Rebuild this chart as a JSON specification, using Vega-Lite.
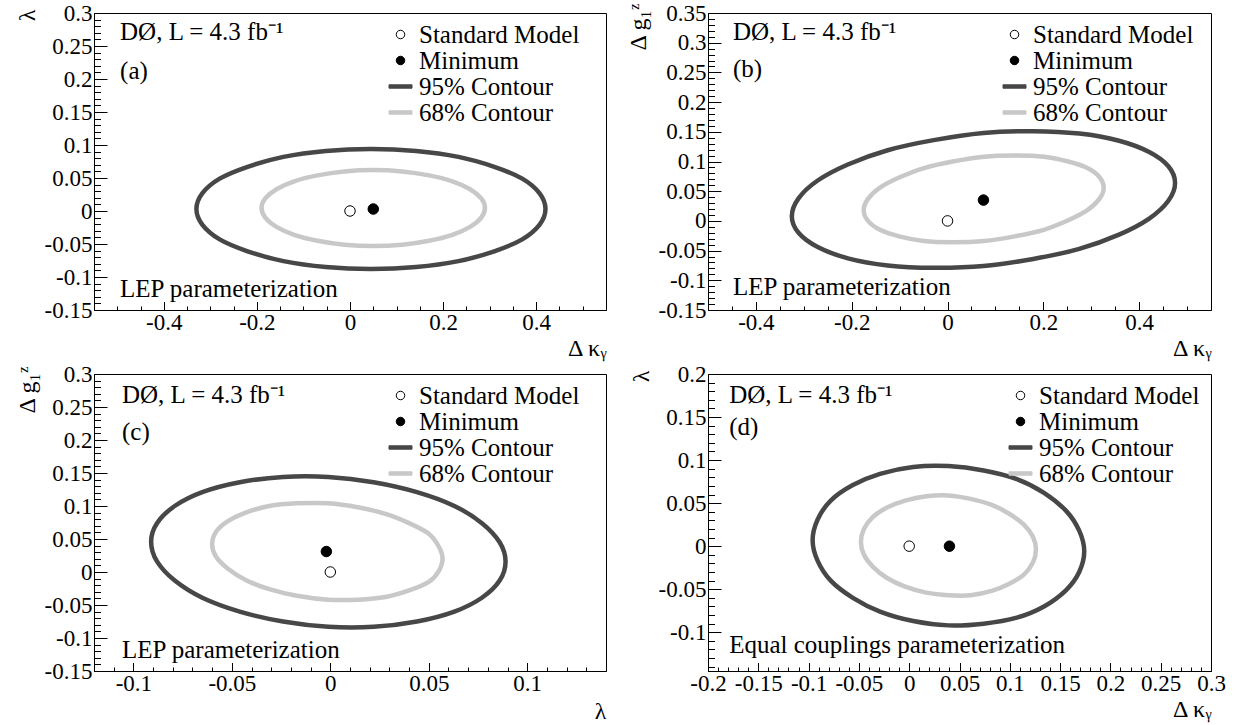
{
  "$schema": "https://vega.github.io/schema/vega-lite/v6.json",
  "background": "white",
  "padding": {"left": 14, "top": 1, "right": 5, "bottom": 2},
  "config": {
    "font": "Liberation Serif",
    "view": {"stroke": "black", "strokeWidth": 1},
    "text": {"font": "Liberation Serif", "fontSize": 25, "align": "left", "baseline": "alphabetic", "color": "black"}
  },
  "datasets": {
    "contours": [
      {"p":"a","lev":"95% Contour","i":0,"x":0.420,"y":0.003},{"p":"a","lev":"95% Contour","i":1,"x":0.407,"y":0.027},{"p":"a","lev":"95% Contour","i":2,"x":0.370,"y":0.049},{"p":"a","lev":"95% Contour","i":3,"x":0.310,"y":0.067},{"p":"a","lev":"95% Contour","i":4,"x":0.233,"y":0.082},{"p":"a","lev":"95% Contour","i":5,"x":0.142,"y":0.091},{"p":"a","lev":"95% Contour","i":6,"x":0.045,"y":0.094},{"p":"a","lev":"95% Contour","i":7,"x":-0.052,"y":0.091},{"p":"a","lev":"95% Contour","i":8,"x":-0.143,"y":0.082},{"p":"a","lev":"95% Contour","i":9,"x":-0.220,"y":0.067},{"p":"a","lev":"95% Contour","i":10,"x":-0.280,"y":0.049},{"p":"a","lev":"95% Contour","i":11,"x":-0.317,"y":0.027},{"p":"a","lev":"95% Contour","i":12,"x":-0.330,"y":0.003},{"p":"a","lev":"95% Contour","i":13,"x":-0.317,"y":-0.021},{"p":"a","lev":"95% Contour","i":14,"x":-0.280,"y":-0.043},{"p":"a","lev":"95% Contour","i":15,"x":-0.220,"y":-0.061},{"p":"a","lev":"95% Contour","i":16,"x":-0.143,"y":-0.076},{"p":"a","lev":"95% Contour","i":17,"x":-0.052,"y":-0.085},{"p":"a","lev":"95% Contour","i":18,"x":0.045,"y":-0.088},{"p":"a","lev":"95% Contour","i":19,"x":0.142,"y":-0.085},{"p":"a","lev":"95% Contour","i":20,"x":0.233,"y":-0.076},{"p":"a","lev":"95% Contour","i":21,"x":0.310,"y":-0.061},{"p":"a","lev":"95% Contour","i":22,"x":0.370,"y":-0.043},{"p":"a","lev":"95% Contour","i":23,"x":0.407,"y":-0.021},
      {"p":"a","lev":"68% Contour","i":0,"x":0.290,"y":0.005},{"p":"a","lev":"68% Contour","i":1,"x":0.282,"y":0.019},{"p":"a","lev":"68% Contour","i":2,"x":0.258,"y":0.033},{"p":"a","lev":"68% Contour","i":3,"x":0.220,"y":0.045},{"p":"a","lev":"68% Contour","i":4,"x":0.170,"y":0.054},{"p":"a","lev":"68% Contour","i":5,"x":0.112,"y":0.060},{"p":"a","lev":"68% Contour","i":6,"x":0.050,"y":0.062},{"p":"a","lev":"68% Contour","i":7,"x":-0.012,"y":0.060},{"p":"a","lev":"68% Contour","i":8,"x":-0.070,"y":0.054},{"p":"a","lev":"68% Contour","i":9,"x":-0.120,"y":0.045},{"p":"a","lev":"68% Contour","i":10,"x":-0.158,"y":0.033},{"p":"a","lev":"68% Contour","i":11,"x":-0.182,"y":0.019},{"p":"a","lev":"68% Contour","i":12,"x":-0.190,"y":0.005},{"p":"a","lev":"68% Contour","i":13,"x":-0.182,"y":-0.010},{"p":"a","lev":"68% Contour","i":14,"x":-0.158,"y":-0.024},{"p":"a","lev":"68% Contour","i":15,"x":-0.120,"y":-0.036},{"p":"a","lev":"68% Contour","i":16,"x":-0.070,"y":-0.045},{"p":"a","lev":"68% Contour","i":17,"x":-0.012,"y":-0.051},{"p":"a","lev":"68% Contour","i":18,"x":0.050,"y":-0.053},{"p":"a","lev":"68% Contour","i":19,"x":0.112,"y":-0.051},{"p":"a","lev":"68% Contour","i":20,"x":0.170,"y":-0.045},{"p":"a","lev":"68% Contour","i":21,"x":0.220,"y":-0.036},{"p":"a","lev":"68% Contour","i":22,"x":0.258,"y":-0.024},{"p":"a","lev":"68% Contour","i":23,"x":0.282,"y":-0.010},
      {"p":"b","lev":"95% Contour","i":0,"x":0.475,"y":0.064},{"p":"b","lev":"95% Contour","i":1,"x":0.461,"y":0.092},{"p":"b","lev":"95% Contour","i":2,"x":0.421,"y":0.116},{"p":"b","lev":"95% Contour","i":3,"x":0.358,"y":0.135},{"p":"b","lev":"95% Contour","i":4,"x":0.275,"y":0.147},{"p":"b","lev":"95% Contour","i":5,"x":0.179,"y":0.151},{"p":"b","lev":"95% Contour","i":6,"x":0.075,"y":0.148},{"p":"b","lev":"95% Contour","i":7,"x":-0.029,"y":0.136},{"p":"b","lev":"95% Contour","i":8,"x":-0.125,"y":0.119},{"p":"b","lev":"95% Contour","i":9,"x":-0.208,"y":0.095},{"p":"b","lev":"95% Contour","i":10,"x":-0.271,"y":0.068},{"p":"b","lev":"95% Contour","i":11,"x":-0.311,"y":0.038},{"p":"b","lev":"95% Contour","i":12,"x":-0.325,"y":0.008},{"p":"b","lev":"95% Contour","i":13,"x":-0.311,"y":-0.020},{"p":"b","lev":"95% Contour","i":14,"x":-0.271,"y":-0.044},{"p":"b","lev":"95% Contour","i":15,"x":-0.208,"y":-0.063},{"p":"b","lev":"95% Contour","i":16,"x":-0.125,"y":-0.075},{"p":"b","lev":"95% Contour","i":17,"x":-0.029,"y":-0.079},{"p":"b","lev":"95% Contour","i":18,"x":0.075,"y":-0.076},{"p":"b","lev":"95% Contour","i":19,"x":0.179,"y":-0.064},{"p":"b","lev":"95% Contour","i":20,"x":0.275,"y":-0.047},{"p":"b","lev":"95% Contour","i":21,"x":0.358,"y":-0.023},{"p":"b","lev":"95% Contour","i":22,"x":0.421,"y":0.004},{"p":"b","lev":"95% Contour","i":23,"x":0.461,"y":0.034},
      {"p":"b","lev":"68% Contour","i":0,"x":0.326,"y":0.056},{"p":"b","lev":"68% Contour","i":1,"x":0.317,"y":0.074},{"p":"b","lev":"68% Contour","i":2,"x":0.292,"y":0.089},{"p":"b","lev":"68% Contour","i":3,"x":0.252,"y":0.100},{"p":"b","lev":"68% Contour","i":4,"x":0.201,"y":0.108},{"p":"b","lev":"68% Contour","i":5,"x":0.140,"y":0.110},{"p":"b","lev":"68% Contour","i":6,"x":0.076,"y":0.108},{"p":"b","lev":"68% Contour","i":7,"x":0.011,"y":0.100},{"p":"b","lev":"68% Contour","i":8,"x":-0.049,"y":0.089},{"p":"b","lev":"68% Contour","i":9,"x":-0.101,"y":0.073},{"p":"b","lev":"68% Contour","i":10,"x":-0.141,"y":0.056},{"p":"b","lev":"68% Contour","i":11,"x":-0.166,"y":0.037},{"p":"b","lev":"68% Contour","i":12,"x":-0.175,"y":0.018},{"p":"b","lev":"68% Contour","i":13,"x":-0.166,"y":0.000},{"p":"b","lev":"68% Contour","i":14,"x":-0.141,"y":-0.015},{"p":"b","lev":"68% Contour","i":15,"x":-0.101,"y":-0.026},{"p":"b","lev":"68% Contour","i":16,"x":-0.049,"y":-0.034},{"p":"b","lev":"68% Contour","i":17,"x":0.011,"y":-0.036},{"p":"b","lev":"68% Contour","i":18,"x":0.076,"y":-0.034},{"p":"b","lev":"68% Contour","i":19,"x":0.140,"y":-0.026},{"p":"b","lev":"68% Contour","i":20,"x":0.201,"y":-0.015},{"p":"b","lev":"68% Contour","i":21,"x":0.252,"y":0.001},{"p":"b","lev":"68% Contour","i":22,"x":0.292,"y":0.018},{"p":"b","lev":"68% Contour","i":23,"x":0.317,"y":0.037},
      {"p":"c","lev":"95% Contour","i":0,"x":0.089,"y":0.016},{"p":"c","lev":"95% Contour","i":1,"x":0.086,"y":0.045},{"p":"c","lev":"95% Contour","i":2,"x":0.077,"y":0.074},{"p":"c","lev":"95% Contour","i":3,"x":0.063,"y":0.100},{"p":"c","lev":"95% Contour","i":4,"x":0.044,"y":0.121},{"p":"c","lev":"95% Contour","i":5,"x":0.022,"y":0.136},{"p":"c","lev":"95% Contour","i":6,"x":-0.001,"y":0.144},{"p":"c","lev":"95% Contour","i":7,"x":-0.024,"y":0.144},{"p":"c","lev":"95% Contour","i":8,"x":-0.046,"y":0.136},{"p":"c","lev":"95% Contour","i":9,"x":-0.065,"y":0.121},{"p":"c","lev":"95% Contour","i":10,"x":-0.079,"y":0.100},{"p":"c","lev":"95% Contour","i":11,"x":-0.088,"y":0.074},{"p":"c","lev":"95% Contour","i":12,"x":-0.091,"y":0.046},{"p":"c","lev":"95% Contour","i":13,"x":-0.088,"y":0.016},{"p":"c","lev":"95% Contour","i":14,"x":-0.079,"y":-0.013},{"p":"c","lev":"95% Contour","i":15,"x":-0.065,"y":-0.039},{"p":"c","lev":"95% Contour","i":16,"x":-0.046,"y":-0.060},{"p":"c","lev":"95% Contour","i":17,"x":-0.024,"y":-0.075},{"p":"c","lev":"95% Contour","i":18,"x":-0.001,"y":-0.083},{"p":"c","lev":"95% Contour","i":19,"x":0.022,"y":-0.083},{"p":"c","lev":"95% Contour","i":20,"x":0.044,"y":-0.075},{"p":"c","lev":"95% Contour","i":21,"x":0.063,"y":-0.060},{"p":"c","lev":"95% Contour","i":22,"x":0.077,"y":-0.039},{"p":"c","lev":"95% Contour","i":23,"x":0.086,"y":-0.013},
      {"p":"c","lev":"68% Contour","i":0,"x":0.057,"y":0.020},{"p":"c","lev":"68% Contour","i":1,"x":0.055,"y":0.039},{"p":"c","lev":"68% Contour","i":2,"x":0.050,"y":0.058},{"p":"c","lev":"68% Contour","i":3,"x":0.040,"y":0.074},{"p":"c","lev":"68% Contour","i":4,"x":0.028,"y":0.088},{"p":"c","lev":"68% Contour","i":5,"x":0.014,"y":0.098},{"p":"c","lev":"68% Contour","i":6,"x":-0.001,"y":0.104},{"p":"c","lev":"68% Contour","i":7,"x":-0.017,"y":0.104},{"p":"c","lev":"68% Contour","i":8,"x":-0.031,"y":0.100},{"p":"c","lev":"68% Contour","i":9,"x":-0.043,"y":0.090},{"p":"c","lev":"68% Contour","i":10,"x":-0.052,"y":0.077},{"p":"c","lev":"68% Contour","i":11,"x":-0.058,"y":0.061},{"p":"c","lev":"68% Contour","i":12,"x":-0.060,"y":0.042},{"p":"c","lev":"68% Contour","i":13,"x":-0.058,"y":0.023},{"p":"c","lev":"68% Contour","i":14,"x":-0.052,"y":0.005},{"p":"c","lev":"68% Contour","i":15,"x":-0.043,"y":-0.012},{"p":"c","lev":"68% Contour","i":16,"x":-0.031,"y":-0.026},{"p":"c","lev":"68% Contour","i":17,"x":-0.017,"y":-0.036},{"p":"c","lev":"68% Contour","i":18,"x":-0.001,"y":-0.042},{"p":"c","lev":"68% Contour","i":19,"x":0.014,"y":-0.042},{"p":"c","lev":"68% Contour","i":20,"x":0.028,"y":-0.038},{"p":"c","lev":"68% Contour","i":21,"x":0.040,"y":-0.028},{"p":"c","lev":"68% Contour","i":22,"x":0.050,"y":-0.015},{"p":"c","lev":"68% Contour","i":23,"x":0.055,"y":0.001},
      {"p":"d","lev":"95% Contour","i":0,"x":0.174,"y":-0.006},{"p":"d","lev":"95% Contour","i":1,"x":0.169,"y":0.018},{"p":"d","lev":"95% Contour","i":2,"x":0.156,"y":0.041},{"p":"d","lev":"95% Contour","i":3,"x":0.134,"y":0.062},{"p":"d","lev":"95% Contour","i":4,"x":0.107,"y":0.078},{"p":"d","lev":"95% Contour","i":5,"x":0.074,"y":0.088},{"p":"d","lev":"95% Contour","i":6,"x":0.039,"y":0.093},{"p":"d","lev":"95% Contour","i":7,"x":0.004,"y":0.092},{"p":"d","lev":"95% Contour","i":8,"x":-0.029,"y":0.084},{"p":"d","lev":"95% Contour","i":9,"x":-0.056,"y":0.071},{"p":"d","lev":"95% Contour","i":10,"x":-0.078,"y":0.053},{"p":"d","lev":"95% Contour","i":11,"x":-0.091,"y":0.031},{"p":"d","lev":"95% Contour","i":12,"x":-0.096,"y":0.007},{"p":"d","lev":"95% Contour","i":13,"x":-0.091,"y":-0.017},{"p":"d","lev":"95% Contour","i":14,"x":-0.078,"y":-0.040},{"p":"d","lev":"95% Contour","i":15,"x":-0.056,"y":-0.060},{"p":"d","lev":"95% Contour","i":16,"x":-0.029,"y":-0.076},{"p":"d","lev":"95% Contour","i":17,"x":0.004,"y":-0.087},{"p":"d","lev":"95% Contour","i":18,"x":0.039,"y":-0.092},{"p":"d","lev":"95% Contour","i":19,"x":0.074,"y":-0.090},{"p":"d","lev":"95% Contour","i":20,"x":0.107,"y":-0.083},{"p":"d","lev":"95% Contour","i":21,"x":0.134,"y":-0.070},{"p":"d","lev":"95% Contour","i":22,"x":0.156,"y":-0.051},{"p":"d","lev":"95% Contour","i":23,"x":0.169,"y":-0.030},
      {"p":"d","lev":"68% Contour","i":0,"x":0.126,"y":-0.004},{"p":"d","lev":"68% Contour","i":1,"x":0.123,"y":0.011},{"p":"d","lev":"68% Contour","i":2,"x":0.114,"y":0.025},{"p":"d","lev":"68% Contour","i":3,"x":0.099,"y":0.038},{"p":"d","lev":"68% Contour","i":4,"x":0.082,"y":0.048},{"p":"d","lev":"68% Contour","i":5,"x":0.061,"y":0.055},{"p":"d","lev":"68% Contour","i":6,"x":0.039,"y":0.059},{"p":"d","lev":"68% Contour","i":7,"x":0.017,"y":0.058},{"p":"d","lev":"68% Contour","i":8,"x":-0.004,"y":0.053},{"p":"d","lev":"68% Contour","i":9,"x":-0.022,"y":0.045},{"p":"d","lev":"68% Contour","i":10,"x":-0.036,"y":0.034},{"p":"d","lev":"68% Contour","i":11,"x":-0.045,"y":0.020},{"p":"d","lev":"68% Contour","i":12,"x":-0.048,"y":0.005},{"p":"d","lev":"68% Contour","i":13,"x":-0.045,"y":-0.010},{"p":"d","lev":"68% Contour","i":14,"x":-0.036,"y":-0.024},{"p":"d","lev":"68% Contour","i":15,"x":-0.022,"y":-0.037},{"p":"d","lev":"68% Contour","i":16,"x":-0.004,"y":-0.047},{"p":"d","lev":"68% Contour","i":17,"x":0.017,"y":-0.054},{"p":"d","lev":"68% Contour","i":18,"x":0.039,"y":-0.057},{"p":"d","lev":"68% Contour","i":19,"x":0.061,"y":-0.057},{"p":"d","lev":"68% Contour","i":20,"x":0.082,"y":-0.052},{"p":"d","lev":"68% Contour","i":21,"x":0.099,"y":-0.044},{"p":"d","lev":"68% Contour","i":22,"x":0.114,"y":-0.033},{"p":"d","lev":"68% Contour","i":23,"x":0.123,"y":-0.019}
    ],
    "points": [
      {"p":"a","name":"Standard Model","x":0,"y":0},{"p":"a","name":"Minimum","x":0.05,"y":0.003},
      {"p":"b","name":"Standard Model","x":0,"y":0},{"p":"b","name":"Minimum","x":0.075,"y":0.035},
      {"p":"c","name":"Standard Model","x":0,"y":0},{"p":"c","name":"Minimum","x":-0.002,"y":0.031},
      {"p":"d","name":"Standard Model","x":0,"y":0},{"p":"d","name":"Minimum","x":0.04,"y":0.0}
    ],
    "notes": [
      {"p":"a","t":"DØ, L = 4.3 fb⁻¹","x":-0.494,"y":0.259},{"p":"a","t":"(a)","x":-0.494,"y":0.2},{"p":"a","t":"LEP parameterization","x":-0.494,"y":-0.130},
      {"p":"b","t":"DØ, L = 4.3 fb⁻¹","x":-0.448,"y":0.305},{"p":"b","t":"(b)","x":-0.448,"y":0.242},{"p":"b","t":"LEP parameterization","x":-0.448,"y":-0.125},
      {"p":"c","t":"DØ, L = 4.3 fb⁻¹","x":-0.1058,"y":0.256},{"p":"c","t":"(c)","x":-0.1058,"y":0.2},{"p":"c","t":"LEP parameterization","x":-0.1058,"y":-0.130},
      {"p":"d","t":"DØ, L = 4.3 fb⁻¹","x":-0.179,"y":0.166},{"p":"d","t":"(d)","x":-0.179,"y":0.129},{"p":"d","t":"Equal couplings parameterization","x":-0.179,"y":-0.124}
    ]
  },
  "columns": 2,
  "spacing": {"row": 64, "column": 102},
  "bounds": "flush",
  "resolve": {
    "scale": {"shape": "independent", "color": "independent", "fill": "independent", "stroke": "independent"},
    "legend": {"shape": "independent", "fill": "independent", "stroke": "independent"}
  },
  "concat": [
    {
      "width": 512, "height": 297,
      "resolve": {"axis": {"x": "independent", "y": "independent"}},
      "layer": [
        {
          "data": {"name": "contours"},
          "transform": [{"filter": "datum.p === 'a'"}],
          "mark": {"type": "line", "strokeWidth": 4.5, "interpolate": "cardinal-closed"},
          "encoding": {
            "x": {"field": "x", "type": "quantitative", "scale": {"domain": [-0.55, 0.55], "nice": false, "zero": false},
              "axis": {"orient": "bottom", "title": "Δ κᵧ", "titleX": 512, "titleY": 45, "titleAlign": "right", "titleBaseline": "alphabetic", "titleFont": "Liberation Serif", "titleFontSize": 24, "titleFontWeight": "normal", "titleColor": "black",
                "grid": false, "domainColor": "black", "tickColor": "black", "labelColor": "black", "labelFont": "Liberation Serif", "labelFontSize": 23, "labelOverlap": false, "labelFlush": false, "labelPadding": 10,
                "values": [-0.4,-0.2,0,0.2,0.4], "tickSize": -8.5,
                "labelExpr": "(datum.value < 0 ? '-' : '') + format(abs(datum.value), '.2~f')"}},
            "y": {"field": "y", "type": "quantitative", "scale": {"domain": [-0.15, 0.3], "nice": false, "zero": false},
              "axis": {"orient": "left", "title": "λ", "titleX": -67, "titleY": -4, "titleAngle": -90, "titleAlign": "right", "titleBaseline": "middle", "titleFont": "Liberation Serif", "titleFontSize": 24, "titleFontWeight": "normal", "titleColor": "black",
                "grid": false, "domainColor": "black", "tickColor": "black", "labelColor": "black", "labelFont": "Liberation Serif", "labelFontSize": 23, "labelOverlap": false, "labelFlush": false, "labelPadding": 15,
                "values": [-0.15,-0.1,-0.05,0,0.05,0.1,0.15,0.2,0.25,0.3], "tickSize": -13,
                "labelExpr": "(datum.value < 0 ? '-' : '') + format(abs(datum.value), '.2~f')"}},
            "color": {"field": "lev", "type": "nominal", "scale": {"domain": ["95% Contour", "68% Contour"], "range": ["#474747", "#c8c8c8"]}, "legend": null},
            "order": {"field": "i", "type": "quantitative"}
          }
        },
        {
          "data": {"name": "points"},
          "transform": [{"filter": "datum.p === 'a'"}],
          "mark": {"type": "point", "filled": true, "opacity": 1, "size": 806, "strokeWidth": 1},
          "encoding": {
            "x": {"field": "x", "type": "quantitative",
              "axis": {"orient": "bottom", "title": null, "labels": false, "domain": false, "grid": false, "tickColor": "black", "tickSize": -4,
                "values": [-0.5,-0.45,-0.35,-0.3,-0.25,-0.15,-0.1,-0.05,0.05,0.1,0.15,0.25,0.3,0.35,0.45,0.5]}},
            "y": {"field": "y", "type": "quantitative",
              "axis": {"orient": "left", "title": null, "labels": false, "domain": false, "grid": false, "tickColor": "black", "tickSize": -6.5,
                "values": [-0.14,-0.13,-0.12,-0.11,-0.09,-0.08,-0.07,-0.06,-0.04,-0.03,-0.02,-0.01,0.01,0.02,0.03,0.04,0.06,0.07,0.08,0.09,0.11,0.12,0.13,0.14,0.16,0.17,0.18,0.19,0.21,0.22,0.23,0.24,0.26,0.27,0.28,0.29]}},
            "shape": {"field": "name", "type": "nominal",
              "scale": {"domain": ["Standard Model", "Minimum", "95% Contour", "68% Contour"], "range": ["M0.37,0A0.37,0.37,0,1,1,-0.37,0A0.37,0.37,0,1,1,0.37,0Z", "M0.37,0A0.37,0.37,0,1,1,-0.37,0A0.37,0.37,0,1,1,0.37,0Z", "M-1,-0.15L1,-0.15L1,0.15L-1,0.15Z", "M-1,-0.15L1,-0.15L1,0.15L-1,0.15Z"]},
              "legend": {"orient": "none", "legendX": 294, "legendY": 9, "title": null, "padding": 0, "labelFont": "Liberation Serif", "labelFontSize": 25, "labelColor": "black", "labelLimit": 0, "labelOffset": 6, "rowPadding": -4, "symbolOpacity": 1, "symbolSize": 529, "symbolStrokeWidth": 1}},
            "fill": {"field": "name", "type": "nominal", "scale": {"domain": ["Standard Model", "Minimum", "95% Contour", "68% Contour"], "range": ["white", "black", "#474747", "#c8c8c8"]}},
            "stroke": {"field": "name", "type": "nominal", "scale": {"domain": ["Standard Model", "Minimum", "95% Contour", "68% Contour"], "range": ["black", "black", "#474747", "#c8c8c8"]}}
          }
        },
        {
          "data": {"name": "notes"},
          "transform": [{"filter": "datum.p === 'a'"}],
          "mark": {"type": "text"},
          "encoding": {
            "x": {"field": "x", "type": "quantitative", "axis": null},
            "y": {"field": "y", "type": "quantitative", "axis": null},
            "text": {"field": "t"}
          }
        }
      ]
    },
    {
      "width": 503, "height": 297,
      "resolve": {"axis": {"x": "independent", "y": "independent"}},
      "layer": [
        {
          "data": {"name": "contours"},
          "transform": [{"filter": "datum.p === 'b'"}],
          "mark": {"type": "line", "strokeWidth": 4.5, "interpolate": "cardinal-closed"},
          "encoding": {
            "x": {"field": "x", "type": "quantitative", "scale": {"domain": [-0.5, 0.55], "nice": false, "zero": false},
              "axis": {"orient": "bottom", "title": "Δ κᵧ", "titleX": 503, "titleY": 45, "titleAlign": "right", "titleBaseline": "alphabetic", "titleFont": "Liberation Serif", "titleFontSize": 24, "titleFontWeight": "normal", "titleColor": "black",
                "grid": false, "domainColor": "black", "tickColor": "black", "labelColor": "black", "labelFont": "Liberation Serif", "labelFontSize": 23, "labelOverlap": false, "labelFlush": false, "labelPadding": 10,
                "values": [-0.4,-0.2,0,0.2,0.4], "tickSize": -8.5,
                "labelExpr": "(datum.value < 0 ? '-' : '') + format(abs(datum.value), '.2~f')"}},
            "y": {"field": "y", "type": "quantitative", "scale": {"domain": [-0.15, 0.35], "nice": false, "zero": false},
              "axis": {"orient": "left", "title": "Δ g₁ᶻ", "titleX": -70, "titleY": -10, "titleAngle": -90, "titleAlign": "right", "titleBaseline": "middle", "titleFont": "Liberation Serif", "titleFontSize": 24, "titleFontWeight": "normal", "titleColor": "black",
                "grid": false, "domainColor": "black", "tickColor": "black", "labelColor": "black", "labelFont": "Liberation Serif", "labelFontSize": 23, "labelOverlap": false, "labelFlush": false, "labelPadding": 15,
                "values": [-0.15,-0.1,-0.05,0,0.05,0.1,0.15,0.2,0.25,0.3,0.35], "tickSize": -13,
                "labelExpr": "(datum.value < 0 ? '-' : '') + format(abs(datum.value), '.2~f')"}},
            "color": {"field": "lev", "type": "nominal", "scale": {"domain": ["95% Contour", "68% Contour"], "range": ["#474747", "#c8c8c8"]}, "legend": null},
            "order": {"field": "i", "type": "quantitative"}
          }
        },
        {
          "data": {"name": "points"},
          "transform": [{"filter": "datum.p === 'b'"}],
          "mark": {"type": "point", "filled": true, "opacity": 1, "size": 806, "strokeWidth": 1},
          "encoding": {
            "x": {"field": "x", "type": "quantitative",
              "axis": {"orient": "bottom", "title": null, "labels": false, "domain": false, "grid": false, "tickColor": "black", "tickSize": -4,
                "values": [-0.45,-0.35,-0.3,-0.25,-0.15,-0.1,-0.05,0.05,0.1,0.15,0.25,0.3,0.35,0.45,0.5]}},
            "y": {"field": "y", "type": "quantitative",
              "axis": {"orient": "left", "title": null, "labels": false, "domain": false, "grid": false, "tickColor": "black", "tickSize": -6.5,
                "values": [-0.14,-0.13,-0.12,-0.11,-0.09,-0.08,-0.07,-0.06,-0.04,-0.03,-0.02,-0.01,0.01,0.02,0.03,0.04,0.06,0.07,0.08,0.09,0.11,0.12,0.13,0.14,0.16,0.17,0.18,0.19,0.21,0.22,0.23,0.24,0.26,0.27,0.28,0.29,0.31,0.32,0.33,0.34]}},
            "shape": {"field": "name", "type": "nominal",
              "scale": {"domain": ["Standard Model", "Minimum", "95% Contour", "68% Contour"], "range": ["M0.37,0A0.37,0.37,0,1,1,-0.37,0A0.37,0.37,0,1,1,0.37,0Z", "M0.37,0A0.37,0.37,0,1,1,-0.37,0A0.37,0.37,0,1,1,0.37,0Z", "M-1,-0.15L1,-0.15L1,0.15L-1,0.15Z", "M-1,-0.15L1,-0.15L1,0.15L-1,0.15Z"]},
              "legend": {"orient": "none", "legendX": 294, "legendY": 9, "title": null, "padding": 0, "labelFont": "Liberation Serif", "labelFontSize": 25, "labelColor": "black", "labelLimit": 0, "labelOffset": 6, "rowPadding": -4, "symbolOpacity": 1, "symbolSize": 529, "symbolStrokeWidth": 1}},
            "fill": {"field": "name", "type": "nominal", "scale": {"domain": ["Standard Model", "Minimum", "95% Contour", "68% Contour"], "range": ["white", "black", "#474747", "#c8c8c8"]}},
            "stroke": {"field": "name", "type": "nominal", "scale": {"domain": ["Standard Model", "Minimum", "95% Contour", "68% Contour"], "range": ["black", "black", "#474747", "#c8c8c8"]}}
          }
        },
        {
          "data": {"name": "notes"},
          "transform": [{"filter": "datum.p === 'b'"}],
          "mark": {"type": "text"},
          "encoding": {
            "x": {"field": "x", "type": "quantitative", "axis": null},
            "y": {"field": "y", "type": "quantitative", "axis": null},
            "text": {"field": "t"}
          }
        }
      ]
    },
    {
      "width": 512, "height": 297,
      "resolve": {"axis": {"x": "independent", "y": "independent"}},
      "layer": [
        {
          "data": {"name": "contours"},
          "transform": [{"filter": "datum.p === 'c'"}],
          "mark": {"type": "line", "strokeWidth": 4.5, "interpolate": "cardinal-closed"},
          "encoding": {
            "x": {"field": "x", "type": "quantitative", "scale": {"domain": [-0.12, 0.14], "nice": false, "zero": false},
              "axis": {"orient": "bottom", "title": "λ", "titleX": 512, "titleY": 47, "titleAlign": "right", "titleBaseline": "alphabetic", "titleFont": "Liberation Serif", "titleFontSize": 24, "titleFontWeight": "normal", "titleColor": "black",
                "grid": false, "domainColor": "black", "tickColor": "black", "labelColor": "black", "labelFont": "Liberation Serif", "labelFontSize": 23, "labelOverlap": false, "labelFlush": false, "labelPadding": 10,
                "values": [-0.1,-0.05,0,0.05,0.1], "tickSize": -8.5,
                "labelExpr": "(datum.value < 0 ? '-' : '') + format(abs(datum.value), '.2~f')"}},
            "y": {"field": "y", "type": "quantitative", "scale": {"domain": [-0.15, 0.3], "nice": false, "zero": false},
              "axis": {"orient": "left", "title": "Δ g₁ᶻ", "titleX": -67, "titleY": -8, "titleAngle": -90, "titleAlign": "right", "titleBaseline": "middle", "titleFont": "Liberation Serif", "titleFontSize": 24, "titleFontWeight": "normal", "titleColor": "black",
                "grid": false, "domainColor": "black", "tickColor": "black", "labelColor": "black", "labelFont": "Liberation Serif", "labelFontSize": 23, "labelOverlap": false, "labelFlush": false, "labelPadding": 15,
                "values": [-0.15,-0.1,-0.05,0,0.05,0.1,0.15,0.2,0.25,0.3], "tickSize": -13,
                "labelExpr": "(datum.value < 0 ? '-' : '') + format(abs(datum.value), '.2~f')"}},
            "color": {"field": "lev", "type": "nominal", "scale": {"domain": ["95% Contour", "68% Contour"], "range": ["#474747", "#c8c8c8"]}, "legend": null},
            "order": {"field": "i", "type": "quantitative"}
          }
        },
        {
          "data": {"name": "points"},
          "transform": [{"filter": "datum.p === 'c'"}],
          "mark": {"type": "point", "filled": true, "opacity": 1, "size": 806, "strokeWidth": 1},
          "encoding": {
            "x": {"field": "x", "type": "quantitative",
              "axis": {"orient": "bottom", "title": null, "labels": false, "domain": false, "grid": false, "tickColor": "black", "tickSize": -4,
                "values": [-0.11,-0.09,-0.08,-0.07,-0.06,-0.04,-0.03,-0.02,-0.01,0.01,0.02,0.03,0.04,0.06,0.07,0.08,0.09,0.11,0.12,0.13]}},
            "y": {"field": "y", "type": "quantitative",
              "axis": {"orient": "left", "title": null, "labels": false, "domain": false, "grid": false, "tickColor": "black", "tickSize": -6.5,
                "values": [-0.14,-0.13,-0.12,-0.11,-0.09,-0.08,-0.07,-0.06,-0.04,-0.03,-0.02,-0.01,0.01,0.02,0.03,0.04,0.06,0.07,0.08,0.09,0.11,0.12,0.13,0.14,0.16,0.17,0.18,0.19,0.21,0.22,0.23,0.24,0.26,0.27,0.28,0.29]}},
            "shape": {"field": "name", "type": "nominal",
              "scale": {"domain": ["Standard Model", "Minimum", "95% Contour", "68% Contour"], "range": ["M0.37,0A0.37,0.37,0,1,1,-0.37,0A0.37,0.37,0,1,1,0.37,0Z", "M0.37,0A0.37,0.37,0,1,1,-0.37,0A0.37,0.37,0,1,1,0.37,0Z", "M-1,-0.15L1,-0.15L1,0.15L-1,0.15Z", "M-1,-0.15L1,-0.15L1,0.15L-1,0.15Z"]},
              "legend": {"orient": "none", "legendX": 294, "legendY": 9, "title": null, "padding": 0, "labelFont": "Liberation Serif", "labelFontSize": 25, "labelColor": "black", "labelLimit": 0, "labelOffset": 6, "rowPadding": -4, "symbolOpacity": 1, "symbolSize": 529, "symbolStrokeWidth": 1}},
            "fill": {"field": "name", "type": "nominal", "scale": {"domain": ["Standard Model", "Minimum", "95% Contour", "68% Contour"], "range": ["white", "black", "#474747", "#c8c8c8"]}},
            "stroke": {"field": "name", "type": "nominal", "scale": {"domain": ["Standard Model", "Minimum", "95% Contour", "68% Contour"], "range": ["black", "black", "#474747", "#c8c8c8"]}}
          }
        },
        {
          "data": {"name": "notes"},
          "transform": [{"filter": "datum.p === 'c'"}],
          "mark": {"type": "text"},
          "encoding": {
            "x": {"field": "x", "type": "quantitative", "axis": null},
            "y": {"field": "y", "type": "quantitative", "axis": null},
            "text": {"field": "t"}
          }
        }
      ]
    },
    {
      "width": 503, "height": 297,
      "resolve": {"axis": {"x": "independent", "y": "independent"}},
      "layer": [
        {
          "data": {"name": "contours"},
          "transform": [{"filter": "datum.p === 'd'"}],
          "mark": {"type": "line", "strokeWidth": 4.5, "interpolate": "cardinal-closed"},
          "encoding": {
            "x": {"field": "x", "type": "quantitative", "scale": {"domain": [-0.2, 0.3], "nice": false, "zero": false},
              "axis": {"orient": "bottom", "title": "Δ κᵧ", "titleX": 503, "titleY": 45, "titleAlign": "right", "titleBaseline": "alphabetic", "titleFont": "Liberation Serif", "titleFontSize": 24, "titleFontWeight": "normal", "titleColor": "black",
                "grid": false, "domainColor": "black", "tickColor": "black", "labelColor": "black", "labelFont": "Liberation Serif", "labelFontSize": 23, "labelOverlap": false, "labelFlush": false, "labelPadding": 10,
                "values": [-0.2,-0.15,-0.1,-0.05,0,0.05,0.1,0.15,0.2,0.25,0.3], "tickSize": -8.5,
                "labelExpr": "(datum.value < 0 ? '-' : '') + format(abs(datum.value), '.2~f')"}},
            "y": {"field": "y", "type": "quantitative", "scale": {"domain": [-0.145, 0.2], "nice": false, "zero": false},
              "axis": {"orient": "left", "title": "λ", "titleX": -67, "titleY": -4, "titleAngle": -90, "titleAlign": "right", "titleBaseline": "middle", "titleFont": "Liberation Serif", "titleFontSize": 24, "titleFontWeight": "normal", "titleColor": "black",
                "grid": false, "domainColor": "black", "tickColor": "black", "labelColor": "black", "labelFont": "Liberation Serif", "labelFontSize": 23, "labelOverlap": false, "labelFlush": false, "labelPadding": 15,
                "values": [-0.1,-0.05,0,0.05,0.1,0.15,0.2], "tickSize": -13,
                "labelExpr": "(datum.value < 0 ? '-' : '') + format(abs(datum.value), '.2~f')"}},
            "color": {"field": "lev", "type": "nominal", "scale": {"domain": ["95% Contour", "68% Contour"], "range": ["#474747", "#c8c8c8"]}, "legend": null},
            "order": {"field": "i", "type": "quantitative"}
          }
        },
        {
          "data": {"name": "points"},
          "transform": [{"filter": "datum.p === 'd'"}],
          "mark": {"type": "point", "filled": true, "opacity": 1, "size": 806, "strokeWidth": 1},
          "encoding": {
            "x": {"field": "x", "type": "quantitative",
              "axis": {"orient": "bottom", "title": null, "labels": false, "domain": false, "grid": false, "tickColor": "black", "tickSize": -4,
                "values": [-0.19,-0.18,-0.17,-0.16,-0.14,-0.13,-0.12,-0.11,-0.09,-0.08,-0.07,-0.06,-0.04,-0.03,-0.02,-0.01,0.01,0.02,0.03,0.04,0.06,0.07,0.08,0.09,0.11,0.12,0.13,0.14,0.16,0.17,0.18,0.19,0.21,0.22,0.23,0.24,0.26,0.27,0.28,0.29]}},
            "y": {"field": "y", "type": "quantitative",
              "axis": {"orient": "left", "title": null, "labels": false, "domain": false, "grid": false, "tickColor": "black", "tickSize": -6.5,
                "values": [-0.14,-0.13,-0.12,-0.11,-0.09,-0.08,-0.07,-0.06,-0.04,-0.03,-0.02,-0.01,0.01,0.02,0.03,0.04,0.06,0.07,0.08,0.09,0.11,0.12,0.13,0.14,0.16,0.17,0.18,0.19]}},
            "shape": {"field": "name", "type": "nominal",
              "scale": {"domain": ["Standard Model", "Minimum", "95% Contour", "68% Contour"], "range": ["M0.37,0A0.37,0.37,0,1,1,-0.37,0A0.37,0.37,0,1,1,0.37,0Z", "M0.37,0A0.37,0.37,0,1,1,-0.37,0A0.37,0.37,0,1,1,0.37,0Z", "M-1,-0.15L1,-0.15L1,0.15L-1,0.15Z", "M-1,-0.15L1,-0.15L1,0.15L-1,0.15Z"]},
              "legend": {"orient": "none", "legendX": 300, "legendY": 9, "title": null, "padding": 0, "labelFont": "Liberation Serif", "labelFontSize": 25, "labelColor": "black", "labelLimit": 0, "labelOffset": 6, "rowPadding": -6, "symbolOpacity": 1, "symbolSize": 529, "symbolStrokeWidth": 1}},
            "fill": {"field": "name", "type": "nominal", "scale": {"domain": ["Standard Model", "Minimum", "95% Contour", "68% Contour"], "range": ["white", "black", "#474747", "#c8c8c8"]}},
            "stroke": {"field": "name", "type": "nominal", "scale": {"domain": ["Standard Model", "Minimum", "95% Contour", "68% Contour"], "range": ["black", "black", "#474747", "#c8c8c8"]}}
          }
        },
        {
          "data": {"name": "notes"},
          "transform": [{"filter": "datum.p === 'd'"}],
          "mark": {"type": "text"},
          "encoding": {
            "x": {"field": "x", "type": "quantitative", "axis": null},
            "y": {"field": "y", "type": "quantitative", "axis": null},
            "text": {"field": "t"}
          }
        }
      ]
    }
  ]
}
